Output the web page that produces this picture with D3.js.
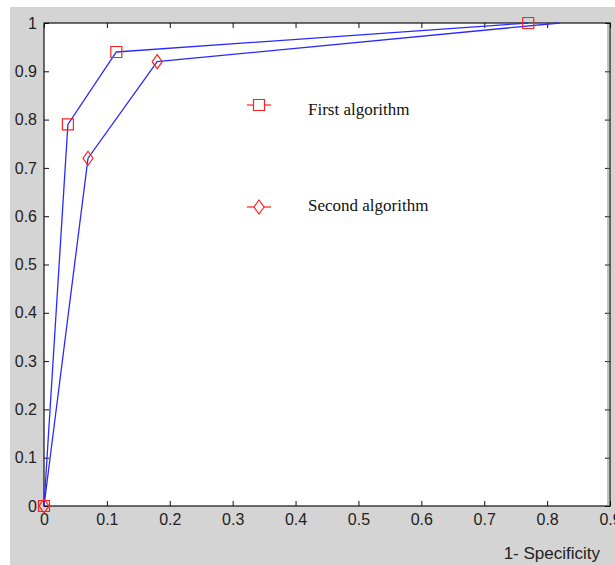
<!DOCTYPE html>
<html lang="en">
<head>
<meta charset="UTF-8">
<title>ROC curves</title>
<script src="https://d3js.org/d3.v7.min.js"></script>
<style>
    body { margin: 0; padding: 0; background: #fff; }
    .tick text { font-family: "Liberation Sans", Arial, sans-serif; font-size: 16px; fill: #222; }
    .legend-text { font-family: "Liberation Serif", "Times New Roman", serif; font-size: 17px; fill: #111; }
</style>
</head>
<body>
<svg id="chart" width="615" height="565"></svg>
<script>
    // data
    const xTicks = [0, 0.1, 0.2, 0.3, 0.4, 0.5, 0.6, 0.7, 0.8, 0.9];
    const yTicks = [0, 0.1, 0.2, 0.3, 0.4, 0.5, 0.6, 0.7, 0.8, 0.9, 1];
    const firstFpr = [0, 0.038, 0.115, 0.77];
    const firstTpr = [0, 0.79, 0.94, 1.0];
    const secondFpr = [0, 0.07, 0.18, 0.82];
    const secondTpr = [0, 0.72, 0.92, 1.0];
    const secondMarked = [true, true, true, false]; // no diamond at the last point
    const xLabel = "1- Specificity";
    const seriesNames = ["First algorithm", "Second algorithm"];

    const svg = d3.select("#chart");

    // MATLAB style grey figure background
    svg.append("rect")
        .attr("x", 10).attr("y", 7)
        .attr("width", 605).attr("height", 558)
        .attr("fill", "#d4d4d4");

    const plotL = 44, plotR = 610, plotT = 23, plotB = 506;

    svg.append("rect")
        .attr("x", plotL).attr("y", plotT)
        .attr("width", plotR - plotL).attr("height", plotB - plotT)
        .attr("fill", "#fff");

    const x = d3.scaleLinear().domain([0, 0.9]).range([plotL, plotR]);
    const y = d3.scaleLinear().domain([0, 1]).range([plotB, plotT]);

    const fmt = d3.format("");

    // axes, ticks pointing inwards
    svg.append("g")
        .attr("transform", `translate(0,${plotB})`)
        .call(d3.axisBottom(x).tickValues(xTicks).tickFormat(fmt)
            .tickSizeInner(-5).tickSizeOuter(0).tickPadding(8));

    svg.append("g")
        .attr("transform", `translate(${plotL},0)`)
        .call(d3.axisLeft(y).tickValues(yTicks).tickFormat(fmt)
            .tickSizeInner(-5).tickSizeOuter(0).tickPadding(7));

    svg.append("g")
        .attr("transform", `translate(0,${plotT})`)
        .call(d3.axisTop(x).tickValues(xTicks).tickFormat("")
            .tickSizeInner(-5).tickSizeOuter(0));

    svg.append("g")
        .attr("transform", `translate(${plotR},0)`)
        .call(d3.axisRight(y).tickValues(yTicks).tickFormat("")
            .tickSizeInner(-5).tickSizeOuter(0));

    svg.selectAll(".domain").remove();
    svg.selectAll(".tick line").attr("stroke", "#111");

    // axes box
    svg.append("rect")
        .attr("x", plotL).attr("y", plotT)
        .attr("width", plotR - plotL).attr("height", plotB - plotT)
        .attr("fill", "none")
        .attr("stroke", "#111")
        .attr("stroke-width", 1.2);
    svg.append("line")
        .attr("x1", plotR - 2).attr("x2", plotR - 2)
        .attr("y1", plotT + 1).attr("y2", plotB)
        .attr("stroke", "#888");

    const line = d3.line().x(d => x(d[0])).y(d => y(d[1]));

    const first = firstFpr.map((v, i) => [v, firstTpr[i]]);
    const second = secondFpr.map((v, i) => [v, secondTpr[i]]);

    const plot = svg.append("g");

    [first, second].forEach(pts => {
        plot.append("path")
            .datum(pts)
            .attr("d", line)
            .attr("fill", "none")
            .attr("stroke", "#2a2aff")
            .attr("stroke-width", 1.3);
    });

    const squarePath = "M-5.5,-5.5H5.5V5.5H-5.5Z";
    const diamondPath = "M0,-7L5,0L0,7L-5,0Z";

    plot.selectAll(".sq")
        .data(first)
        .enter().append("path")
        .attr("class", "sq")
        .attr("transform", d => `translate(${x(d[0])},${y(d[1])})`)
        .attr("d", squarePath)
        .attr("fill", "none")
        .attr("stroke", "#ff2020")
        .attr("stroke-width", 1.2);

    plot.selectAll(".dm")
        .data(second.filter((d, i) => secondMarked[i]))
        .enter().append("path")
        .attr("class", "dm")
        .attr("transform", d => `translate(${x(d[0])},${y(d[1])})`)
        .attr("d", diamondPath)
        .attr("fill", "none")
        .attr("stroke", "#ff2020")
        .attr("stroke-width", 1.2);

    // text annotations used as a legend
    const legendRows = [
        { name: seriesNames[0], marker: squarePath, y: 105, ty: 110 },
        { name: seriesNames[1], marker: diamondPath, y: 207, ty: 206 }
    ];

    legendRows.forEach(r => {
        svg.append("line")
            .attr("x1", 247).attr("x2", 271)
            .attr("y1", r.y).attr("y2", r.y)
            .attr("stroke", "#ff2020").attr("stroke-width", 1.2);
        svg.append("path")
            .attr("transform", `translate(259,${r.y})`)
            .attr("d", r.marker)
            .attr("fill", "#fff")
            .attr("stroke", "#ff2020").attr("stroke-width", 1.2);
        svg.append("text")
            .attr("class", "legend-text")
            .attr("x", 308).attr("y", r.ty)
            .attr("dy", "0.32em")
            .text(r.name);
    });

    svg.append("text")
        .attr("x", 600).attr("y", 559)
        .attr("text-anchor", "end")
        .style("font-family", "Liberation Sans, Arial, sans-serif")
        .style("font-size", "17px")
        .attr("fill", "#222")
        .text(xLabel);
</script>
</body>
</html>
